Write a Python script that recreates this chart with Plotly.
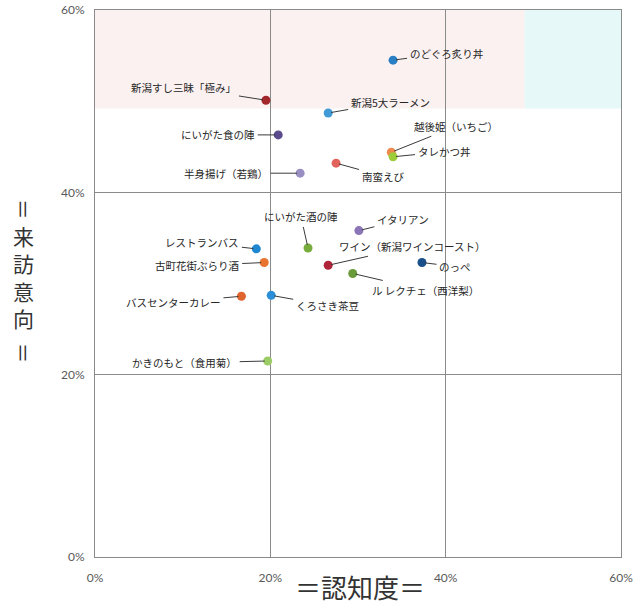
import plotly.graph_objects as go

# ---- data (percent) ----
names = [
    "のどぐろ炙り丼", "新潟すし三昧「極み」", "新潟5大ラーメン", "にいがた食の陣",
    "越後姫（いちご）", "タレかつ丼", "南蛮えび", "半身揚げ（若鶏）",
    "にいがた酒の陣", "イタリアン", "レストランバス", "ワイン（新潟ワインコースト）",
    "古町花街ぶらり酒", "のっぺ", "ル レクチェ（西洋梨）", "バスセンターカレー",
    "くろさき茶豆", "かきのもと（食用菊）",
]
awareness = [34.0, 19.5, 26.6, 20.9, 33.8, 34.0, 27.5, 23.4,
             24.3, 30.1, 18.4, 26.6, 19.3, 37.3, 29.4, 16.7, 20.1, 19.7]
intention = [54.5, 50.1, 48.7, 46.3, 44.4, 43.9, 43.2, 42.1,
             33.9, 35.8, 33.8, 32.0, 32.3, 32.3, 31.1, 28.6, 28.7, 21.5]

tick_values = [0, 20, 40, 60]
tick_labels = ["0%", "20%", "40%", "60%"]
zone_y = [49.2, 60]
zone_x_pink = [0, 49]
zone_x_cyan = [49, 60]
y_title_core = "来<br>訪<br>意<br>向"
y_title_mark = "＝"
x_title = "＝認知度＝"

# ---- styles ----
colors = ["#2a7fc4", "#a3262b", "#3f9ad6", "#5b4a8c", "#ef8a4c", "#9ccc3a",
          "#e2625c", "#9a8fc2", "#78ad3e", "#8b74b8", "#1f86d0", "#b0243a",
          "#e8742f", "#1b4f8a", "#6a9a3a", "#e0642e", "#2a8ed8", "#9ccc65"]
# label offsets (pixels) from the point to the label centre
offsets = [(53, -7), (-82, -13), (62, -11), (-60, 0), (65, -26), (51, -5),
           (47, 13), (-74, 0), (-7, -31), (44, -11), (-54, -6), (84, -19),
           (-67, 3), (33, 4), (73, 17), (-68, 6), (56, 10), (-83, 2)]

cjk = "Noto Sans CJK JP"

fig = go.Figure()
fig.add_trace(go.Scatter(
    x=awareness, y=intention, mode="markers",
    marker=dict(size=9, color=colors, line=dict(width=0)),
    text=names, hoverinfo="text", showlegend=False,
))

shapes = [
    dict(type="rect", xref="x", yref="y", x0=zone_x_pink[0], x1=zone_x_pink[1],
         y0=zone_y[0], y1=zone_y[1], fillcolor="#fbf1f1", line=dict(width=0), layer="below"),
    dict(type="rect", xref="x", yref="y", x0=zone_x_cyan[0], x1=zone_x_cyan[1],
         y0=zone_y[0], y1=zone_y[1], fillcolor="#e6f8f8", line=dict(width=0), layer="below"),
]

annotations = []
for n, xv, yv, (dx, dy) in zip(names, awareness, intention, offsets):
    annotations.append(dict(
        x=xv, y=yv, xref="x", yref="y", text=n, showarrow=True,
        ax=dx, ay=dy, arrowhead=0, arrowwidth=1, arrowcolor="#3a3a3a",
        standoff=3, borderpad=2,
        font=dict(family=cjk, size=10.5, color="#262626"),
    ))

# vertical y-axis title
title_font = dict(family=cjk, size=21, color="#333333")
annotations.append(dict(
    xref="paper", yref="paper", x=-0.135, y=0.512, showarrow=False,
    text=y_title_core, align="center", font=title_font,
    xanchor="center", yanchor="middle",
))
for yp in (0.635, 0.372):
    annotations.append(dict(
        xref="paper", yref="paper", x=-0.135, y=yp, showarrow=False,
        text=y_title_mark, textangle=90, font=title_font,
        xanchor="center", yanchor="middle",
    ))

annotations.append(dict(
    xref="paper", yref="paper", x=0.504, y=-0.054, showarrow=False,
    text=x_title,
    font=dict(family=cjk, size=26, color="#333333"),
    xanchor="center", yanchor="middle",
))

axis_common = dict(
    showgrid=True, gridcolor="#8a8a8a", gridwidth=1,
    showline=True, linecolor="#8a8a8a", linewidth=1, mirror=True,
    zeroline=False, ticks="", automargin=False,
    tickvals=tick_values, ticktext=tick_labels,
    tickfont=dict(family="Lato", size=12, color="#595959"),
    fixedrange=True, range=[0, 60],
)

fig.update_layout(
    width=635, height=604,
    margin=dict(l=95, r=14, t=10, b=47, autoexpand=False),
    paper_bgcolor="white", plot_bgcolor="white",
    xaxis=dict(ticklabelstandoff=10, **axis_common),
    yaxis=dict(ticklabelstandoff=7, **axis_common),
    shapes=shapes, annotations=annotations,
)

fig.write_html("out.html")
